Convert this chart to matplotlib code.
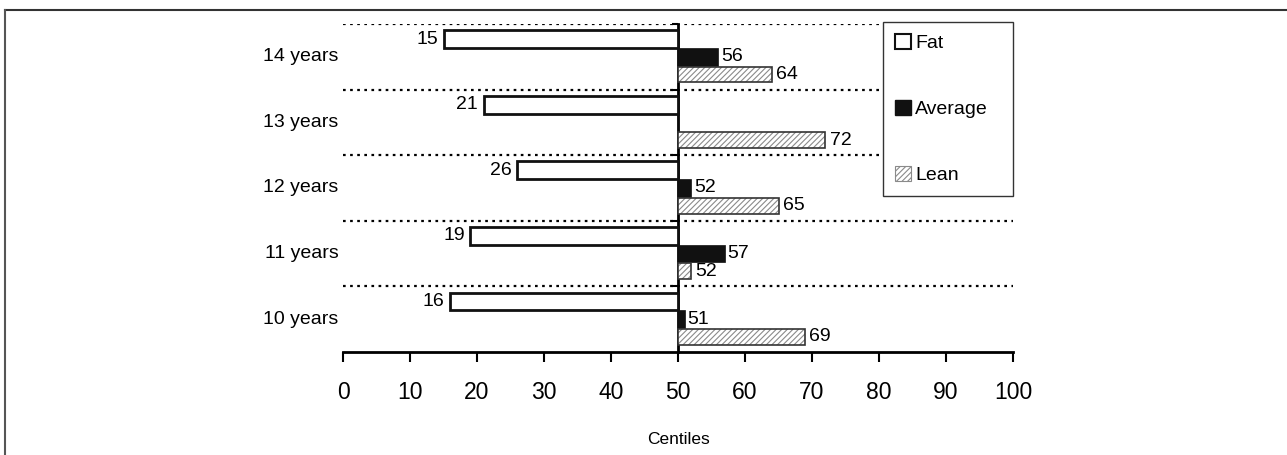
import numpy as np
import matplotlib
matplotlib.use('Agg')
import matplotlib.pyplot as plt
from matplotlib.lines import Line2D
from matplotlib.patches import Patch
import matplotlib.transforms as mtransforms

plt.rcParams['font.family'] = ['Liberation Sans', 'DejaVu Sans']
plt.rcParams['hatch.linewidth'] = 0.8

# data (bottom to top)
groups = ['10 years', '11 years', '12 years', '13 years', '14 years']
fat = [16, 19, 26, 21, 15]
average = [51, 57, 52, np.nan, 56]
lean = [69, 52, 65, 72, 64]
BASE = 50
xticks = list(range(0, 101, 10))

fig = plt.figure(figsize=(12.87, 4.55), dpi=100)
ax = fig.add_axes([343 / 1287, 103 / 455, 670 / 1287, 328 / 455])

y = np.arange(len(groups))
h = 0.27
off = 0.27

fat_w = np.array(fat, float) - BASE
avg_w = np.array(average, float) - BASE
lean_w = np.array(lean, float) - BASE

ax.barh(y + off, fat_w, h, left=BASE, color='white', edgecolor='#111111', lw=2, zorder=3)
avg_draw = np.where(np.isnan(avg_w), 0, avg_w)
ax.barh(y, avg_draw, h, left=BASE, color='#111111', edgecolor='#111111', lw=0.5, zorder=3)
ax.barh(y - off, lean_w, h * 0.9, left=BASE, color='white', edgecolor='#8a8a8a', hatch='//////', lw=0, zorder=3)
ax.barh(y - off, lean_w, h * 0.9, left=BASE, color='none', edgecolor='#333333', lw=1.2, zorder=4)

# value labels
for i in range(len(groups)):
    ax.annotate(f'{fat[i]}', (fat[i], y[i] + off), xytext=(-4, 0), textcoords='offset points',
                ha='right', va='center', fontsize=14)
    if not np.isnan(average[i]):
        ax.annotate(f'{average[i]:.0f}', (average[i], y[i]), xytext=(2, 0), textcoords='offset points',
                    ha='left', va='center', fontsize=14)
    ax.annotate(f'{lean[i]}', (lean[i], y[i] - off), xytext=(3, 0), textcoords='offset points',
                ha='left', va='center', fontsize=14)

# group separators
for b in np.arange(len(groups)) + 0.5:
    ax.axhline(b, color='black', lw=1.6, ls=(0, (1.2, 2.0)), zorder=1)

# category labels
trans = mtransforms.blended_transform_factory(ax.transAxes, ax.transData)
for i, g in enumerate(groups):
    ax.text(-0.007, y[i], g, transform=trans, ha='right', va='center', fontsize=14)

ax.set_xlim(0, 100)
ax.set_ylim(-0.5, len(groups) - 0.5)
ax.set_xticks(xticks)
ax.set_xticklabels([str(t) for t in xticks], fontsize=16.5)
ax.tick_params(axis='x', direction='out', length=7, width=1.5, pad=14)
ax.set_yticks(np.arange(len(groups)) + 0.5)
ax.set_yticklabels([])
ax.tick_params(axis='y', direction='out', length=4, width=1.5)
ax.spines['left'].set_position(('data', BASE))
ax.spines['left'].set_linewidth(2)
ax.spines['bottom'].set_linewidth(2)
ax.spines['top'].set_visible(False)
ax.spines['right'].set_visible(False)
ax.set_xlabel('Centiles', fontsize=12.5, labelpad=20)

handles = [Patch(facecolor='white', edgecolor='#111111', lw=1.5),
           Patch(facecolor='#111111', edgecolor='#111111'),
           Patch(facecolor='white', edgecolor='#8a8a8a', hatch='//////', lw=0.8)]
leg = ax.legend(handles, ['Fat', 'Average', 'Lean'], loc='upper left',
                bbox_to_anchor=(0.806, 1.006, 0.194, 0), mode='expand', borderaxespad=0,
                fontsize=14, fancybox=False, framealpha=1, edgecolor='#333333',
                labelspacing=2.45, handlelength=0.85, handleheight=0.85,
                handletextpad=0.2, borderpad=0.6)
leg.get_frame().set_linewidth(1)
leg.set_zorder(10)

# outer frame (only top and left visible)
fig.add_artist(Line2D([4.5 / 1287, 1], [1 - 9.5 / 455] * 2, color='#333333', lw=1.5,
                      transform=fig.transFigure))
fig.add_artist(Line2D([4.5 / 1287] * 2, [0, 1 - 9.5 / 455], color='#555555', lw=1.5,
                      transform=fig.transFigure))

fig.savefig('out.png', dpi=100)
